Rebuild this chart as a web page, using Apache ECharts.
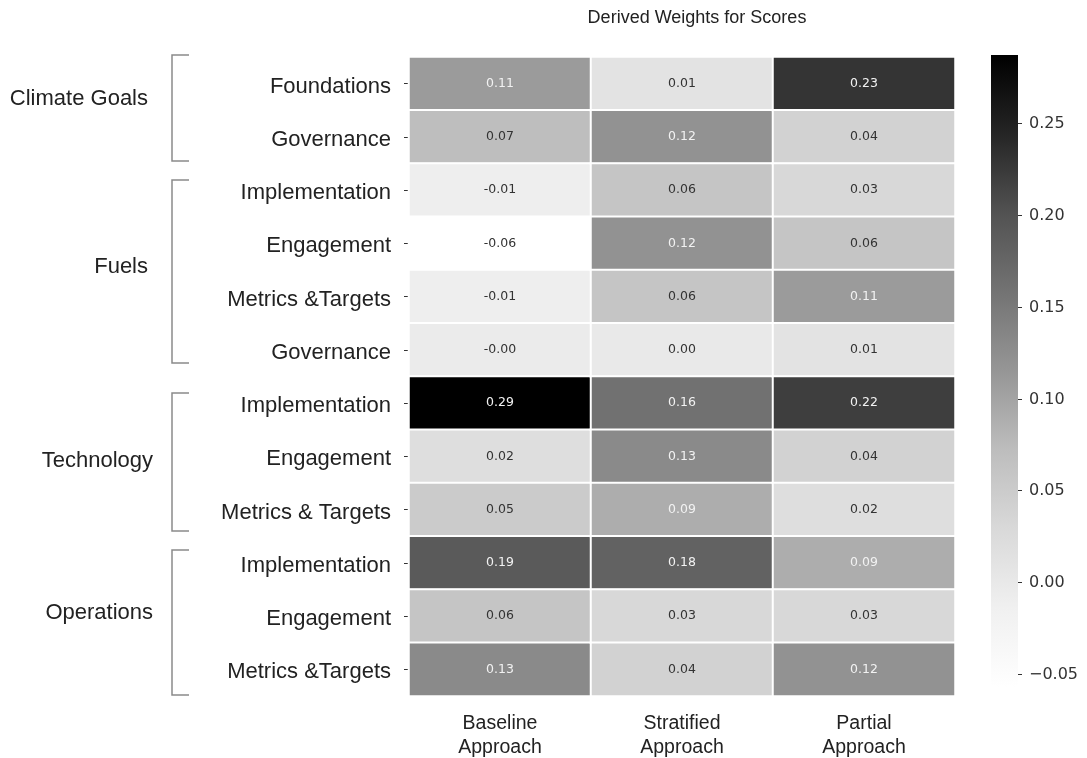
<!DOCTYPE html>
<html>
<head>
<meta charset="utf-8">
<title>Derived Weights for Scores</title>
<script src="https://cdn.jsdelivr.net/npm/echarts@6/dist/echarts.min.js"></script>
<style>
  html, body { margin: 0; padding: 0; background: #fff; }
  #main { width: 1087px; height: 758px; }
</style>
</head>
<body>
<div id="main"></div>
<script>
  // columns / rows
  var approaches = ['Baseline\nApproach', 'Stratified\nApproach', 'Partial\nApproach'];
  var rowLabels = ['Foundations', 'Governance',
    'Implementation', 'Engagement', 'Metrics &Targets', 'Governance',
    'Implementation', 'Engagement', 'Metrics & Targets',
    'Implementation', 'Engagement', 'Metrics &Targets'];
  var groupNames = ['Climate Goals', 'Fuels', 'Technology', 'Operations'];

  // weights per approach (top row first)
  var baseline   = [0.11, 0.07, -0.01, -0.057, -0.01, -0.004, 0.287, 0.02, 0.05, 0.19, 0.06, 0.13];
  var stratified = [0.01, 0.12, 0.06, 0.12, 0.06, 0.00, 0.16, 0.13, 0.09, 0.18, 0.03, 0.04];
  var partial    = [0.23, 0.04, 0.03, 0.06, 0.11, 0.01, 0.22, 0.04, 0.02, 0.09, 0.03, 0.12];

  var cbTicks = [-0.05, 0, 0.05, 0.10, 0.15, 0.20, 0.25];

  // matplotlib "Greys"
  var greys = ['#ffffff', '#f0f0f0', '#d9d9d9', '#bdbdbd', '#969696', '#737373', '#525252', '#252525', '#000000'];

  var cols = [baseline, stratified, partial];
  var all = baseline.concat(stratified, partial);
  var vmin = Math.min.apply(null, all);
  var vmax = Math.max.apply(null, all);

  var cells = [];
  cols.forEach(function (col, c) {
    col.forEach(function (v, r) {
      cells.push({
        value: [c, r, v],
        label: { color: v > 0.08 ? '#f2f2f2' : '#333333' }
      });
    });
  });

  var gradStops = greys.slice().reverse().map(function (c, i) {
    return { offset: i / (greys.length - 1), color: c };
  });

  var cbLeft = 991, cbWidth = 27;

  var chart = echarts.init(document.getElementById('main'));

  var textStyle = { fontFamily: 'Liberation Sans, Arial, sans-serif', fill: '#222', fontSize: 22 };
  function groupText(name, x, y) {
    return { type: 'text', x: x, y: y,
      style: Object.assign({ text: name, align: 'right', verticalAlign: 'middle' }, textStyle) };
  }
  function bracket(y1, y2) {
    return { type: 'polyline', shape: { points: [[189, y1], [172, y1], [172, y2], [189, y2]] },
      style: { stroke: '#8a8a8a', lineWidth: 1.5, fill: null } };
  }
  function fmt(v) {
    return v < 0 ? '\u2212' + Math.abs(v).toFixed(2) : v.toFixed(2);
  }

  chart.setOption({
    backgroundColor: '#fff',
    animation: false,
    grid: [
      { left: 409, top: 57, width: 546, height: 639, outerBoundsMode: 'none' },
      { left: cbLeft, top: 55, width: cbWidth, height: 632, outerBoundsMode: 'none', show: true,
        borderWidth: 0,
        backgroundColor: new echarts.graphic.LinearGradient(0, 0, 0, 1, gradStops) }
    ],
    xAxis: [
      {
        type: 'category', data: approaches, gridIndex: 0,
        axisLine: { show: false },
        axisTick: { show: true, inside: true, length: 3, alignWithLabel: true, lineStyle: { color: '#555' } },
        axisLabel: { fontFamily: 'Liberation Sans, Arial', fontSize: 19.5, color: '#222', lineHeight: 24, margin: 16 }
      },
      { type: 'value', gridIndex: 1, show: false }
    ],
    yAxis: [
      {
        type: 'category', data: rowLabels, gridIndex: 0, inverse: true,
        axisLine: { show: false },
        axisTick: { show: true, length: 5, alignWithLabel: true, lineStyle: { color: '#333' } },
        axisLabel: { show: false }   // row labels drawn below, slightly lowered like the original
      },
      // colorbar scale (drawn below through convertToPixel)
      { type: 'value', gridIndex: 1, show: false, min: vmin, max: vmax }
    ],
    visualMap: {
      show: false, type: 'continuous', min: vmin, max: vmax, seriesIndex: 0, dimension: 2,
      inRange: { color: greys }
    },
    series: [{
      type: 'heatmap',
      xAxisIndex: 0, yAxisIndex: 0,
      data: cells,
      itemStyle: { borderColor: '#fff', borderWidth: 2 },
      label: {
        show: true, fontFamily: 'DejaVu Sans', fontSize: 12.5,
        formatter: function (p) { return p.value[2].toFixed(2); }
      },
      emphasis: { disabled: true }
    }]
  });

  var graphics = [
    { type: 'text', x: 697, y: 18,
      style: { text: 'Derived Weights for Scores', align: 'center', verticalAlign: 'middle',
        fontFamily: 'Liberation Sans, Arial', fontSize: 18, fill: '#222' } },
    groupText(groupNames[0], 148, 99),
    groupText(groupNames[1], 148, 267),
    groupText(groupNames[2], 153, 461),
    groupText(groupNames[3], 153, 613),
    bracket(55, 161),
    bracket(180, 363),
    bracket(393, 531),
    bracket(550, 695)
  ];

  // row labels at the category band centres
  rowLabels.forEach(function (name, i) {
    var y = chart.convertToPixel({ yAxisIndex: 0 }, i) + 3;
    graphics.push({ type: 'text', x: 391, y: y,
      style: Object.assign({ text: name, align: 'right', verticalAlign: 'middle' }, textStyle) });
  });

  // colorbar ticks and labels on the right edge, placed through the colorbar axis scale
  var x0 = cbLeft + cbWidth;
  cbTicks.forEach(function (v) {
    var y = Math.round(chart.convertToPixel({ yAxisIndex: 1 }, v)) + 0.5;
    graphics.push({ type: 'line', shape: { x1: x0, y1: y, x2: x0 + 4, y2: y },
      style: { stroke: '#333', lineWidth: 1 } });
    graphics.push({ type: 'text', x: x0 + 11, y: y,
      style: { text: fmt(v), align: 'left', verticalAlign: 'middle',
        fontFamily: 'DejaVu Sans', fontSize: 16, fill: '#333' } });
  });
  chart.setOption({ graphic: graphics });
</script>
</body>
</html>
